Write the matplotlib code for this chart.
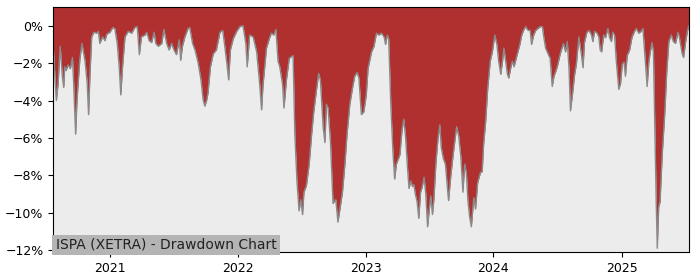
import pandas as pd
import matplotlib
matplotlib.use('Agg')
import matplotlib.pyplot as plt
import matplotlib.dates as mdates
from matplotlib.ticker import FuncFormatter

# drawdown of ISPA (XETRA), values in percent
dates = [
    '2020-07-23', '2020-08-01', '2020-08-06', '2020-08-12', '2020-08-18', '2020-08-22', '2020-08-25',
    '2020-08-29', '2020-09-03', '2020-09-10', '2020-09-16', '2020-09-19', '2020-09-25', '2020-09-29',
    '2020-10-07', '2020-10-13', '2020-10-22', '2020-10-28', '2020-11-01', '2020-11-05', '2020-11-10',
    '2020-11-16', '2020-11-24', '2020-11-29', '2020-12-03', '2020-12-11', '2020-12-18', '2020-12-23',
    '2021-01-01', '2021-01-09', '2021-01-15', '2021-01-22', '2021-01-28', '2021-02-01', '2021-02-06',
    '2021-02-13', '2021-02-22', '2021-03-04', '2021-03-13', '2021-03-20', '2021-03-26', '2021-04-01',
    '2021-04-11', '2021-04-16', '2021-04-23', '2021-04-30', '2021-05-07', '2021-05-12', '2021-05-19',
    '2021-05-29', '2021-06-04', '2021-06-12', '2021-06-19', '2021-06-26', '2021-07-03', '2021-07-10',
    '2021-07-18', '2021-07-22', '2021-07-27', '2021-08-03', '2021-08-12', '2021-08-17', '2021-08-25',
    '2021-09-01', '2021-09-10', '2021-09-18', '2021-09-24', '2021-09-29', '2021-10-04', '2021-10-08',
    '2021-10-15', '2021-10-23', '2021-11-01', '2021-11-11', '2021-11-19', '2021-11-25', '2021-12-02',
    '2021-12-06', '2021-12-11', '2021-12-19', '2021-12-29', '2022-01-07', '2022-01-16', '2022-01-24',
    '2022-01-28', '2022-02-04', '2022-02-14', '2022-02-24', '2022-03-05', '2022-03-10', '2022-03-14',
    '2022-03-24', '2022-04-01', '2022-04-07', '2022-04-14', '2022-04-20', '2022-04-26', '2022-05-01',
    '2022-05-09', '2022-05-13', '2022-05-20', '2022-05-28', '2022-06-03', '2022-06-08', '2022-06-13',
    '2022-06-19', '2022-06-25', '2022-06-30', '2022-07-05', '2022-07-09', '2022-07-16', '2022-07-24',
    '2022-07-31', '2022-08-06', '2022-08-14', '2022-08-20', '2022-08-25', '2022-09-02', '2022-09-07',
    '2022-09-11', '2022-09-16', '2022-09-23', '2022-09-30', '2022-10-08', '2022-10-14', '2022-10-19',
    '2022-10-27', '2022-11-03', '2022-11-09', '2022-11-17', '2022-11-25', '2022-12-01', '2022-12-08',
    '2022-12-13', '2022-12-20', '2022-12-27', '2023-01-03', '2023-01-08', '2023-01-18', '2023-01-25',
    '2023-02-01', '2023-02-08', '2023-02-15', '2023-02-23', '2023-02-27', '2023-03-04', '2023-03-08',
    '2023-03-14', '2023-03-20', '2023-03-25', '2023-03-30', '2023-04-09', '2023-04-15', '2023-04-20',
    '2023-04-25', '2023-04-30', '2023-05-05', '2023-05-10', '2023-05-15', '2023-05-19', '2023-05-23',
    '2023-05-28', '2023-06-02', '2023-06-07', '2023-06-12', '2023-06-17', '2023-06-22', '2023-06-27',
    '2023-07-01', '2023-07-06', '2023-07-11', '2023-07-15', '2023-07-21', '2023-07-27', '2023-08-01',
    '2023-08-05', '2023-08-11', '2023-08-17', '2023-08-23', '2023-08-26', '2023-09-01', '2023-09-08',
    '2023-09-12', '2023-09-18', '2023-09-24', '2023-09-30', '2023-10-06', '2023-10-11', '2023-10-16',
    '2023-10-20', '2023-10-25', '2023-10-30', '2023-11-06', '2023-11-11', '2023-11-17', '2023-11-25',
    '2023-11-30', '2023-12-04', '2023-12-10', '2023-12-16', '2023-12-23', '2023-12-29', '2024-01-05',
    '2024-01-11', '2024-01-16', '2024-01-22', '2024-01-27', '2024-01-31', '2024-02-05', '2024-02-10',
    '2024-02-14', '2024-02-19', '2024-02-24', '2024-02-29', '2024-03-04', '2024-03-11', '2024-03-16',
    '2024-03-22', '2024-03-27', '2024-04-02', '2024-04-09', '2024-04-15', '2024-04-19', '2024-04-25',
    '2024-05-01', '2024-05-07', '2024-05-14', '2024-05-20', '2024-05-23', '2024-05-29', '2024-06-05',
    '2024-06-11', '2024-06-17', '2024-06-22', '2024-06-27', '2024-07-02', '2024-07-08', '2024-07-13',
    '2024-07-19', '2024-07-25', '2024-07-30', '2024-08-04', '2024-08-08', '2024-08-13', '2024-08-20',
    '2024-08-25', '2024-09-01', '2024-09-08', '2024-09-13', '2024-09-17', '2024-09-24', '2024-09-30',
    '2024-10-07', '2024-10-11', '2024-10-16', '2024-10-23', '2024-10-28', '2024-11-01', '2024-11-05',
    '2024-11-11', '2024-11-16', '2024-11-23', '2024-11-28', '2024-12-03', '2024-12-07', '2024-12-12',
    '2024-12-17', '2024-12-22', '2024-12-24', '2024-12-29', '2025-01-03', '2025-01-08', '2025-01-12',
    '2025-01-17', '2025-01-24', '2025-01-31', '2025-02-07', '2025-02-12', '2025-02-19', '2025-02-26',
    '2025-03-03', '2025-03-08', '2025-03-12', '2025-03-15', '2025-03-20', '2025-03-24', '2025-03-29',
    '2025-04-02', '2025-04-06', '2025-04-10', '2025-04-13', '2025-04-17', '2025-04-21', '2025-04-27',
    '2025-05-04', '2025-05-10', '2025-05-16', '2025-05-23', '2025-05-29', '2025-06-04', '2025-06-11',
    '2025-06-15', '2025-06-23', '2025-06-27', '2025-07-03', '2025-07-08', '2025-07-12',
]
drawdown = [
    -1.1, -4.0, -3.1, -1.1, -2.7, -3.3, -2.2,
    -2.4, -2.1, -2.3, -1.7, -2.9, -5.8, -3.95,
    -1.8, -0.95, -1.9, -3.05, -4.75, -2.6, -0.6,
    -0.35, -0.4, -0.3, -0.95, -0.6, -0.8, -0.45,
    -0.35, -0.1, -0.15, -0.95, -2.35, -3.7, -2.2,
    -0.6, -0.3, -0.4, -0.1, -0.05, -1.55, -0.6,
    -0.5, -0.35, -0.8, -0.9, -0.35, -0.95, -1.1,
    -0.95, -0.2, -0.95, -1.3, -0.95, -1.3, -1.55,
    -0.75, -1.85, -1.1, -0.6, -0.15, -0.1, -0.95,
    -1.3, -2.0, -2.9, -3.95, -4.3, -4.0, -3.6,
    -2.2, -1.5, -1.3, -0.35, -0.25, -1.1, -2.2,
    -2.9, -1.3, -0.7, -0.3, -0.05, 0.0, -0.95,
    -2.2, -0.5, -0.6, -1.4, -3.2, -4.5, -3.2,
    -1.2, -0.7, -0.4, -0.5, -0.2, -1.9, -2.2,
    -3.15, -4.4, -2.9, -1.75, -1.65, -1.6, -5.8,
    -8.3, -9.9, -9.3, -10.1, -8.9, -8.55, -7.4,
    -5.8, -4.6, -3.4, -2.55, -2.9, -5.45, -6.25,
    -4.2, -4.4, -6.3, -9.5, -9.3, -10.5, -9.9,
    -8.9, -7.4, -5.8, -4.2, -3.3, -2.7, -2.5,
    -2.8, -4.75, -4.6, -3.7, -2.3, -1.4, -1.1,
    -0.4, -0.5, -0.4, -0.6, -1.0, -0.5, -0.7,
    -4.2, -6.7, -8.2, -7.4, -6.9, -5.6, -5.0,
    -5.9, -7.4, -8.7, -8.3, -8.6, -8.5, -9.0,
    -9.4, -10.3, -8.9, -8.6, -8.1, -9.0, -10.75,
    -10.0, -9.1, -10.1, -9.3, -7.3, -6.0, -5.3,
    -6.5, -7.1, -7.4, -8.75, -9.35, -8.1, -6.9,
    -6.3, -5.4, -5.9, -7.0, -8.9, -7.4, -7.9,
    -9.3, -10.2, -10.75, -9.2, -9.8, -8.4, -7.85,
    -7.8, -6.35, -5.1, -3.3, -1.9, -1.4, -0.5,
    -1.0, -1.9, -2.6, -1.9, -1.2, -1.9, -2.6,
    -2.8, -2.3, -1.9, -2.2, -1.9, -1.4, -1.05,
    -0.5, -0.25, -0.05, -0.25, -0.25, -1.0, -0.5,
    -0.25, -0.15, -0.05, -0.05, -0.5, -1.2, -1.5,
    -1.75, -3.25, -2.7, -2.45, -2.15, -1.65, -1.3,
    -0.95, -1.4, -0.85, -2.3, -4.55, -3.8, -2.6,
    -2.05, -0.6, -1.5, -2.25, -0.9, -0.35, -0.25,
    -0.5, -0.85, -0.3, -0.4, -0.6, -1.3, -1.4,
    -0.5, -0.65, -0.15, -0.65, -0.85, -0.35, -0.5,
    -1.9, -3.0, -3.4, -3.1, -2.05, -1.95, -2.7,
    -1.6, -1.3, -0.6, -0.3, -0.15, -0.4, -0.3,
    -0.15, -1.4, -2.45, -3.25, -1.9, -1.4, -0.9,
    -1.4, -5.45, -9.5, -11.9, -9.7, -9.4, -6.9,
    -4.8, -2.5, -0.85, -0.5, -0.85, -0.95, -0.35,
    -0.6, -1.5, -1.7, -0.85, -0.3, 0.0,
]
title = 'ISPA (XETRA) - Drawdown Chart'

df = pd.DataFrame({'date': pd.to_datetime(dates), 'dd': drawdown})

fig = plt.figure(figsize=(7, 2.8), dpi=100)
ax = fig.add_axes([0.076, 0.1, 0.908, 0.875])
ax.set_facecolor('#ececec')

top = 1.0
ax.fill_between(df['date'], df['dd'], top, color='#b03030', linewidth=0)
ax.plot(df['date'], df['dd'], color='#8a8a8a', linewidth=1.0)

ax.set_xlim(df['date'].iloc[0], df['date'].iloc[-1])
ax.set_ylim(-12.1, top)
ax.set_yticks([0, -2, -4, -6, -8, -10, -12])
ax.yaxis.set_major_formatter(FuncFormatter(lambda v, p: '%d%%' % v if v >= 0 else '\u2212%d%%' % -v))
ax.xaxis.set_major_locator(mdates.YearLocator())
ax.xaxis.set_major_formatter(mdates.DateFormatter('%Y'))
ax.tick_params(labelsize=9)

ax.text(0.004, 0.0, title, transform=ax.transAxes, ha='left', va='bottom', fontsize=10,
        color='#222222', bbox=dict(facecolor='#b4b4b4', edgecolor='none', pad=2.5))

plt.savefig('out.png')
